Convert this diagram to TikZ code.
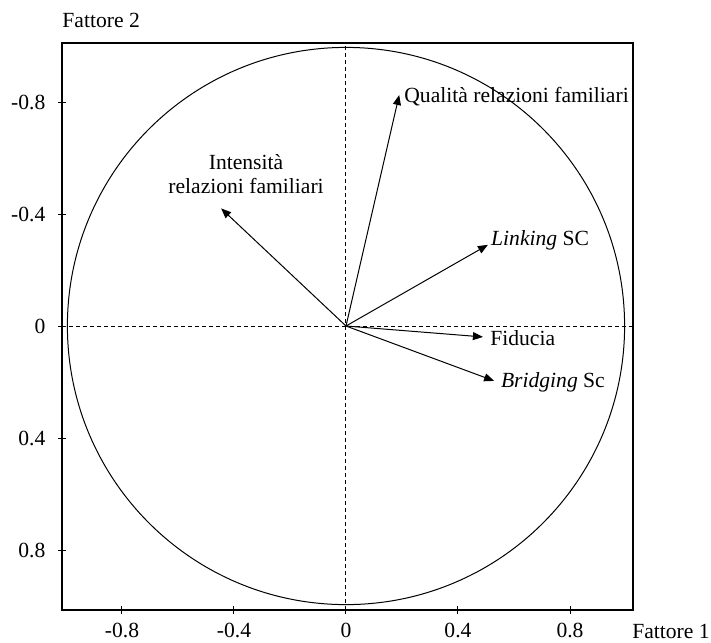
\documentclass[tikz,border=0pt]{standalone}
\usepackage{fontspec}
\setmainfont{Liberation Serif}
\usetikzlibrary{arrows.meta}

\begin{document}
\begin{tikzpicture}[
    x=140pt, y=140pt,
    font=\fontsize{10.8}{12}\selectfont,
    axis/.style={dash pattern=on 2pt off 1.5pt, line width=0.5pt},
    vec/.style={-{Triangle[length=5pt,width=4pt]}, line width=0.5pt},
    frame/.style={draw, line width=0.9pt},
    lbl/.style={anchor=west, inner sep=1pt}
]
\useasboundingbox (-1.2357,-1.1286) rectangle (1.3036,1.1643);

% Frame
\draw[frame] (-1.014,-1.014) rectangle (1.025,1.011);

% Ticks and tick labels
\foreach \v/\t [count=\i] in {-0.8/-0.8, -0.4/-0.4, 0/0, 0.4/0.4, 0.8/0.8} {
    \draw[line width=0.5pt] (\v,-1.028) -- (\v,-1.0);
    \node (xl\i) at (\v,-1.088) {\t};
}
\foreach \v/\t [count=\i] in {0.8/-0.8, 0.4/-0.4, 0/0, -0.4/0.4, -0.8/0.8} {
    \draw[line width=0.5pt] (-1.028,\v) -- (-1.0,\v);
    \node[anchor=east, inner sep=0pt] (yl\i) at (-1.072,\v) {\t};
}

% Axis titles
\node[anchor=west, inner sep=0pt] (f2) at (-1.014,1.093) {Fattore 2};
\node[anchor=west, inner sep=0pt] (f1) at (1.021,-1.09) {Fattore 1};

% Dashed axes
\draw[axis] (-1.014,0) -- (1.025,0);
\draw[axis] (0,-1.014) -- (0,1.011);

% Correlation circle
\coordinate (O) at (0,0);
\draw[line width=0.5pt] (O) circle (0.995);

% Variables
\coordinate (qual) at (0.19,0.825);
\coordinate (inte) at (-0.446,0.42);
\coordinate (link) at (0.507,0.29);
\coordinate (fid) at (0.489,-0.039);
\coordinate (brid) at (0.529,-0.196);

\draw[vec] (O) -- (qual);
\draw[vec] (O) -- (inte);
\draw[vec] (O) -- (link);
\draw[vec] (O) -- (fid);
\draw[vec] (O) -- (brid);

\node[lbl] (qualtxt) at (0.2,0.82) {Qualità relazioni familiari};
\node[align=center, inner sep=0pt] (intetxt) at (-0.357,0.543) {Intensità\\relazioni familiari};
\node[lbl] (linktxt) at (0.51,0.305) {\textit{Linking} SC};
\node[lbl] (fidtxt) at (0.507,-0.043) {Fiducia};
\node[lbl] (bridtxt) at (0.545,-0.2) {\textit{Bridging} Sc};

\end{tikzpicture}
\end{document}
